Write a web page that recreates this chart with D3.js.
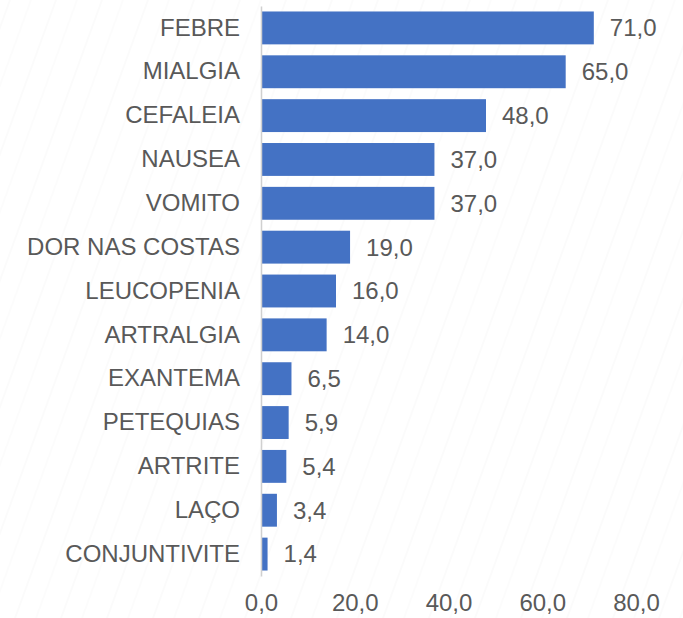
<!DOCTYPE html>
<html>
<head>
<meta charset="utf-8">
<script src="https://cdn.jsdelivr.net/npm/d3@7"></script>
<style>
  html, body { margin: 0; padding: 0; background: #fff; }
  svg { display: block; }
  text { font-family: "Liberation Sans", Arial, sans-serif; fill: #595959; }
</style>
</head>
<body>
<svg id="chart"></svg>
<script>
// symptom names, top to bottom
var categories = ['FEBRE', 'MIALGIA', 'CEFALEIA', 'NAUSEA', 'VOMITO', 'DOR NAS COSTAS',
  'LEUCOPENIA', 'ARTRALGIA', 'EXANTEMA', 'PETEQUIAS', 'ARTRITE', 'LAÇO', 'CONJUNTIVITE'];

// percentages
var values = [71.0, 65.0, 48.0, 37.0, 37.0, 19.0, 16.0, 14.0, 6.5, 5.9, 5.4, 3.4, 1.4];

var xTicks = [0, 20, 40, 60, 80];

var width = 683, height = 618;

var svg = d3.select('#chart')
  .attr('width', width)
  .attr('height', height);

// faint diagonal texture in the background
var defs = svg.append('defs');
var pat = defs.append('pattern')
  .attr('id', 'bgTex')
  .attr('patternUnits', 'userSpaceOnUse')
  .attr('width', 46)
  .attr('height', 120)
  .attr('patternTransform', 'skewX(-20)');
pat.append('line')
  .attr('x1', 10).attr('y1', 0).attr('x2', 10).attr('y2', 120)
  .attr('stroke', '#f7f7f7').attr('stroke-width', 1);
pat.append('line')
  .attr('x1', 31).attr('y1', 0).attr('x2', 31).attr('y2', 120)
  .attr('stroke', '#f9f9f9').attr('stroke-width', 1);
svg.append('rect')
  .attr('width', width).attr('height', height)
  .attr('fill', 'url(#bgTex)');

var x = d3.scaleLinear()
  .domain([0, 80])
  .range([261, 636]);

var y = d3.scaleBand()
  .domain(categories)
  .range([6, 576])
  .paddingInner(0.25)
  .paddingOuter(0.125);

var fmt = function(v) { return d3.format('.1f')(v).replace('.', ','); };

// bars
svg.append('g').selectAll('rect')
  .data(values)
  .enter().append('rect')
  .attr('x', x(0))
  .attr('y', function(d, i) { return y(categories[i]); })
  .attr('width', function(d) { return x(d) - x(0); })
  .attr('height', y.bandwidth())
  .attr('fill', '#4472C4');

// value labels
svg.append('g').selectAll('text')
  .data(values)
  .enter().append('text')
  .attr('x', function(d) { return x(d) + 16; })
  .attr('y', function(d, i) { return y(categories[i]) + y.bandwidth() / 2; })
  .attr('dy', '0.35em')
  .style('font-size', '24px')
  .text(fmt);

// category axis
var yAxis = svg.append('g')
  .attr('transform', 'translate(' + x(0) + ',0)')
  .call(d3.axisLeft(y).tickSize(0).tickPadding(21));
yAxis.select('.domain')
  .attr('stroke', '#d0d0d0')
  .attr('stroke-width', 1.5);
yAxis.selectAll('text')
  .style('font-size', '24px')
  .attr('fill', '#595959');

// value axis (labels only)
var xAxis = svg.append('g')
  .attr('transform', 'translate(0,591)')
  .call(d3.axisBottom(x).tickValues(xTicks).tickSize(0).tickFormat(fmt));
xAxis.select('.domain').remove();
xAxis.selectAll('text')
  .style('font-size', '24px')
  .attr('fill', '#595959');
</script>
</body>
</html>
